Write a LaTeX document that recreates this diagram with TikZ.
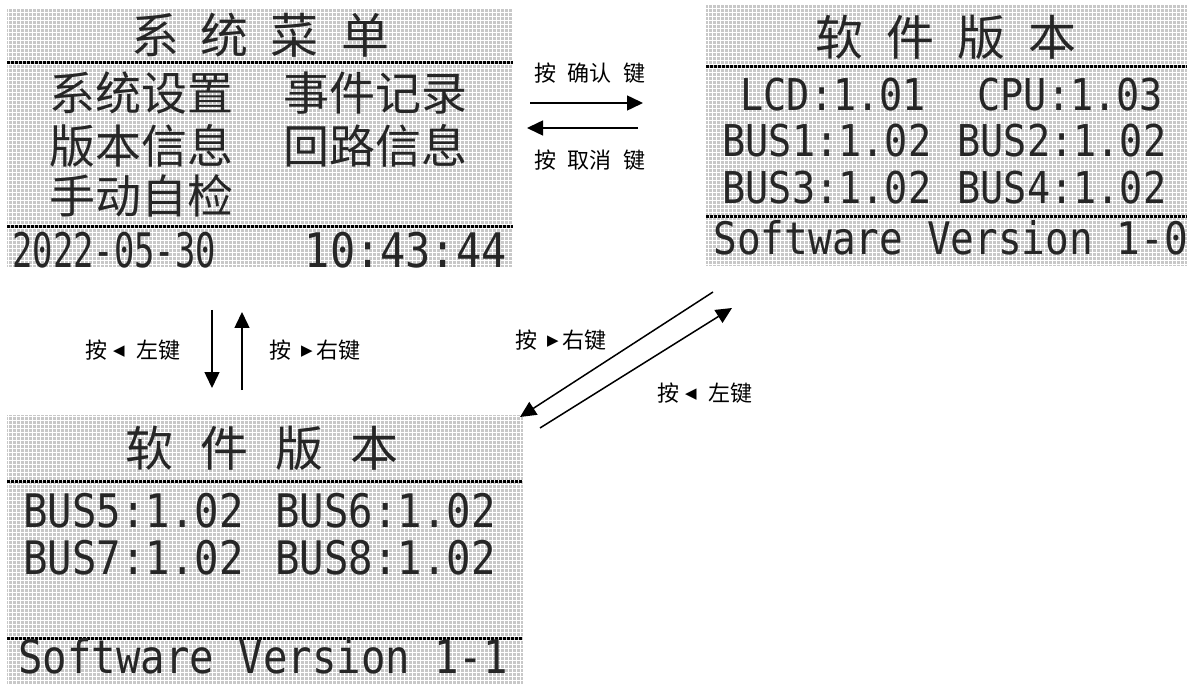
\documentclass[tikz,border=0pt]{standalone}
\usepackage{fontspec}
\usetikzlibrary{arrows.meta}
\newfontfamily\cjk{Noto Sans CJK SC}
\newfontfamily\lcdmono[FakeStretch=0.88]{DejaVu Sans Mono}
\newfontfamily\lcdnarrow[FakeStretch=0.71]{DejaVu Sans Mono}
\newfontfamily\symf{DejaVu Sans}
\definecolor{lcdbg}{RGB}{200,200,200}
\newcommand{\lkey}{\raisebox{1.3pt}{\symf\fontsize{7.5}{8}\selectfont ◀}}
\newcommand{\rkey}{\raisebox{1.3pt}{\symf\fontsize{7.5}{8}\selectfont ▶}}
\tikzset{
  lcd/.style={fill=lcdbg, inner sep=0pt, outer sep=0pt, anchor=north west},
  lcdgrid/.style={white, line width=0.45pt, step=2pt},
  lcdsep/.style={line width=1.5pt, dash pattern=on 1.5pt off 0.5pt},
  title/.style={inner sep=0pt, text=black!85, font=\cjk\fontsize{24}{24}\selectfont},
  row/.style={inner sep=0pt, anchor=west, text=black!85, font=\cjk\fontsize{23}{23}\selectfont},
  txt/.style={inner sep=0pt, anchor=west, text=black!85},
  lab/.style={inner sep=0pt, font=\cjk\fontsize{11}{12}\selectfont},
  key/.style={->, line width=0.75pt}
}

\begin{document}
\begin{tikzpicture}[x=0.5pt,y=-0.5pt,>={Triangle[length=8pt,width=7.5pt]}]
  \useasboundingbox (0,0) rectangle (1189,684);
  \node[lcd, minimum width=253pt, minimum height=129.5pt] (A) at (7,8) {};
  \node[lcd, minimum width=240.5pt, minimum height=131pt] (B) at (706,4) {};
  \node[lcd, minimum width=258pt, minimum height=134.5pt] (C) at (7,415) {};
  \draw[lcdgrid] (A.south west) grid (A.north east);
  \draw[lcdgrid] (B.south west) grid (B.north east);
  \draw[lcdgrid] (C.south west) grid (C.north east);
  \draw[lcdsep] (7,63) -- (513,63) (7,227) -- (513,227);
  \draw[lcdsep] (706,67) -- (1187,67) (706,217) -- (1187,217);
  \draw[lcdsep] (7,481) -- (523,481) (7,638) -- (523,638);

  \node[title] (At) at (260,35) {系\hspace{11pt}统\hspace{11pt}菜\hspace{11pt}单};
  \node[row] (A1) at (49,93) {系统设置};
  \node[row] (A2) at (283,93) {事件记录};
  \node[row] (A3) at (49,146) {版本信息};
  \node[row] (A4) at (283,146) {回路信息};
  \node[row] (A5) at (49,196) {手动自检};
  \node[txt, font=\lcdnarrow\fontsize{23.8}{24}\selectfont] (A6) at (12,250) {2022-05-30};
  \node[txt, anchor=east, font=\lcdmono\fontsize{23.8}{24}\selectfont] (A7) at (507,250) {10:43:44};

  \node[title] (Bt) at (946,37) {软\hspace{11.5pt}件\hspace{11.5pt}版\hspace{11.5pt}本};
  \begin{scope}[every node/.style={txt, font=\lcdmono\fontsize{21.9}{22}\selectfont}]
    \node (B1) at (740,95) {LCD:1.01};
    \node (B2) at (977,95) {CPU:1.03};
    \node (B3) at (722,141) {BUS1:1.02};
    \node (B4) at (957,141) {BUS2:1.02};
    \node (B5) at (722,188) {BUS3:1.02};
    \node (B6) at (957,188) {BUS4:1.02};
    \node[font=\lcdmono\fontsize{22.4}{22}\selectfont] (B7) at (713,238) {Software Version 1-0};
  \end{scope}

  \node[title] (Ct) at (262,448) {软\hspace{13.5pt}件\hspace{13.5pt}版\hspace{13.5pt}本};
  \begin{scope}[every node/.style={txt, font=\lcdmono\fontsize{23.1}{23}\selectfont}]
    \node (C1) at (23,511) {BUS5:1.02};
    \node (C2) at (275,511) {BUS6:1.02};
    \node (C3) at (23,558) {BUS7:1.02};
    \node (C4) at (275,558) {BUS8:1.02};
    \node (C5) at (18,656) {Software Version 1-1};
  \end{scope}

  \node[lab] (t1) at (590,73) {按\hspace{6pt}确认\hspace{6pt}键};
  \node[lab] (t2) at (590,160) {按\hspace{6pt}取消\hspace{6pt}键};
  \node[lab] (t3) at (133,350) {按\hspace{3pt}\lkey\hspace{6pt}左键};
  \node[lab] (t4) at (315,350) {按\hspace{5pt}\rkey\hspace{2pt}右键};
  \node[lab] (t5) at (561,340) {按\hspace{5pt}\rkey\hspace{2pt}右键};
  \node[lab] (t6) at (705,393) {按\hspace{3pt}\lkey\hspace{6pt}左键};

  \coordinate (a1) at (530,103);
  \coordinate (a2) at (643,103);
  \coordinate (b1) at (638,128);
  \coordinate (b2) at (527,128);
  \coordinate (c1) at (212,310);
  \coordinate (c2) at (212,388);
  \coordinate (d1) at (242,390);
  \coordinate (d2) at (242,312);
  \coordinate (e1) at (713,292);
  \coordinate (e2) at (520,417);
  \coordinate (f1) at (540,428);
  \coordinate (f2) at (732,308);
\path[key] (a1) edge (a2)
	  (b1) edge (b2)
	  (c1) edge (c2)
	  (d1) edge (d2)
	  (e1) edge (e2)
	  (f1) edge (f2);
\end{tikzpicture}
\end{document}
